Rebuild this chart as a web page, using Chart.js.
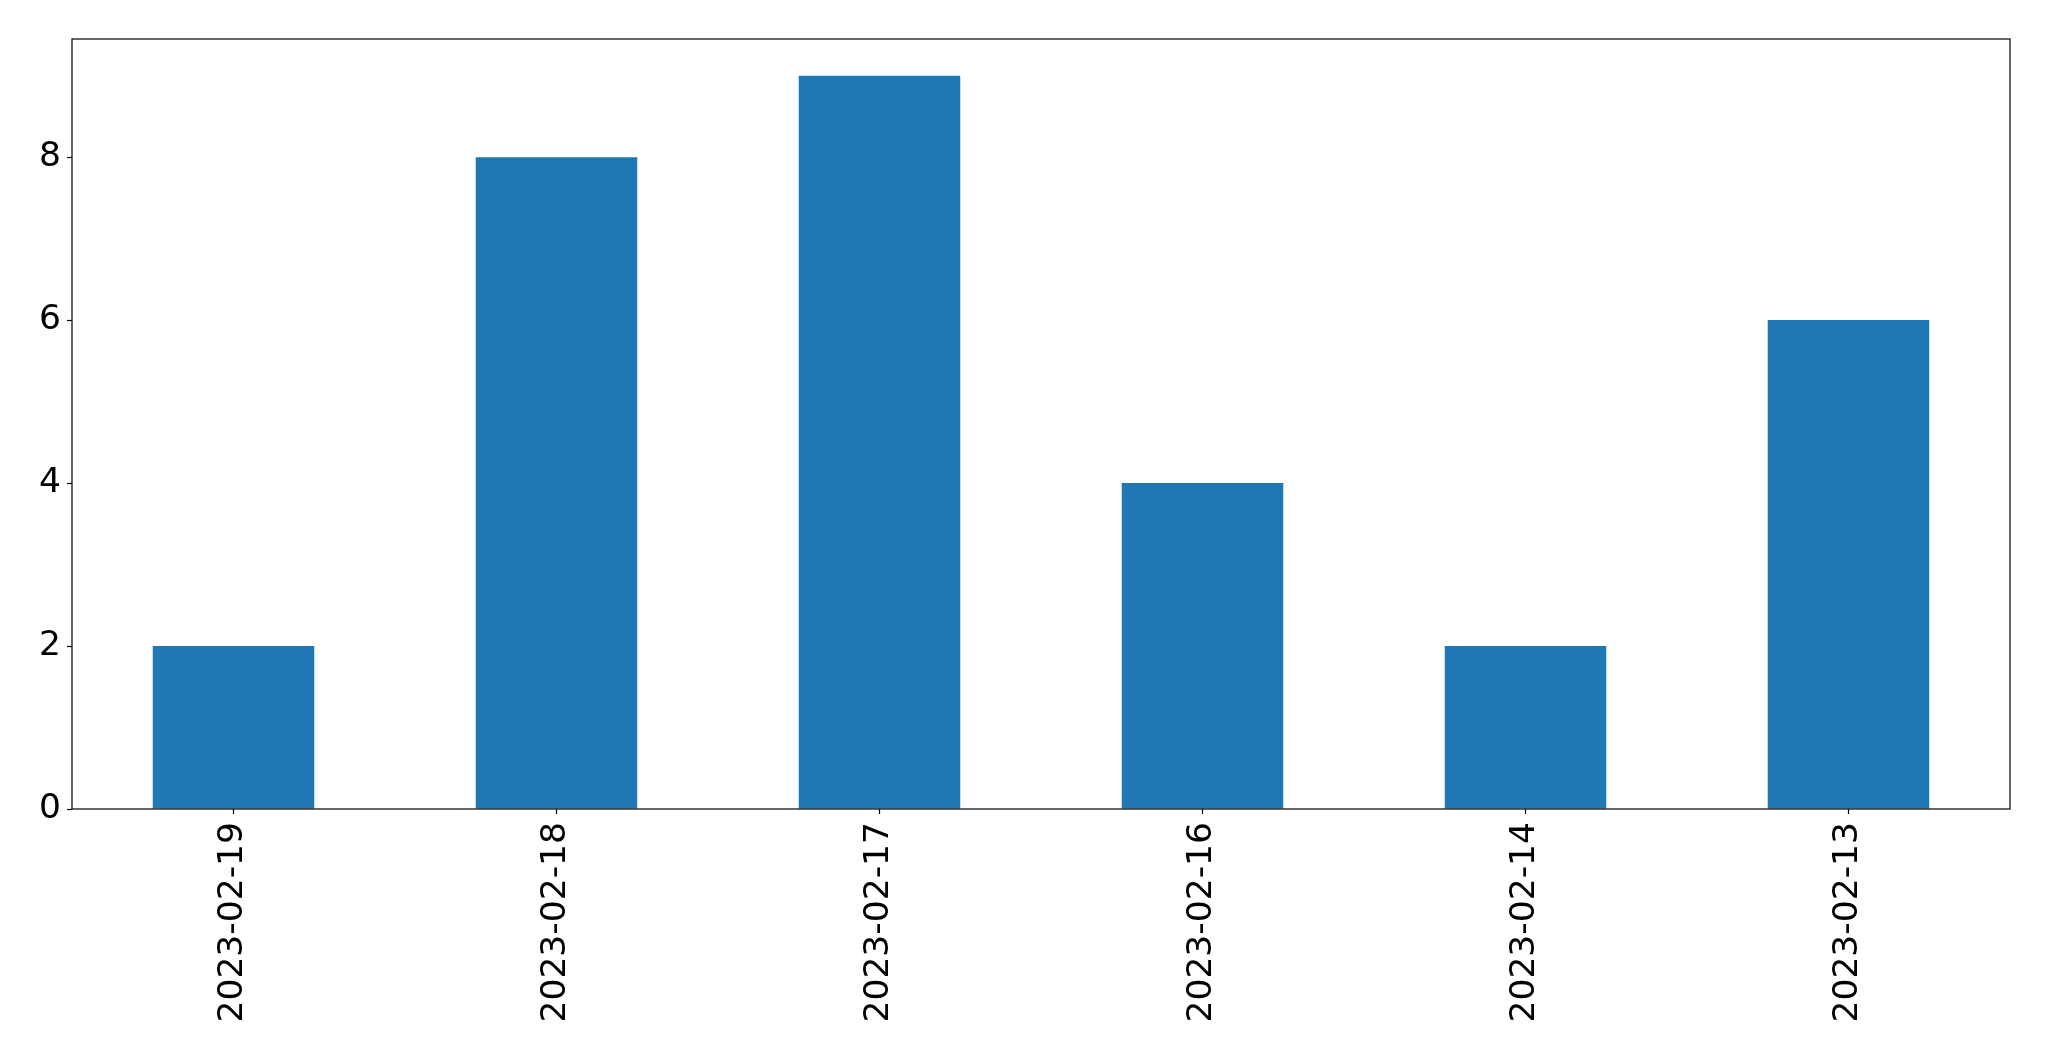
<!DOCTYPE html>
<html>
<head>
<meta charset="utf-8">
<script src="https://cdn.jsdelivr.net/npm/chart.js@4/dist/chart.umd.min.js"></script>
<style>
  html, body { margin: 0; padding: 0; background: #fff; }
  #wrap { width: 2049px; height: 1061px; }
</style>
</head>
<body>
<div id="wrap"><canvas id="chart" width="2049" height="1061"></canvas></div>
<script>
var dates = ["2023-02-19", "2023-02-18", "2023-02-17", "2023-02-16", "2023-02-14", "2023-02-13"];
var counts = [2, 8, 9, 4, 2, 6];
var yTicks = [0, 2, 4, 6, 8];

var font = { family: "DejaVu Sans", size: 34.5 };

// draws the box round the plot area, like matplotlib's spines
var frame = {
    id: "frame",
    afterDraw: function (chart) {
        var a = chart.chartArea;
        var c = chart.ctx;
        c.save();
        c.strokeStyle = "#000";
        c.lineWidth = 1.2;
        c.strokeRect(a.left, a.top, a.right - a.left, a.bottom - a.top);
        c.restore();
    },
};

var ctx = document.getElementById("chart").getContext("2d");

new Chart(ctx, {
    type: "bar",
    data: {
        labels: dates,
        datasets: [{
            data: counts,
            backgroundColor: "#1f77b4",
            borderWidth: 0,
            barPercentage: 0.5,
            categoryPercentage: 1.0,
        }],
    },
    options: {
        responsive: false,
        animation: false,
        layout: { padding: { top: 39, right: 39, left: 0, bottom: 0 } },
        plugins: {
            legend: { display: false },
            tooltip: { enabled: false },
        },
        scales: {
            x: {
                offset: true,
                grid: { offset: false, drawOnChartArea: false, tickLength: 5, color: "#000", tickWidth: 1.2 },
                border: { display: false },
                ticks: { color: "#000", font: font, minRotation: 90, maxRotation: 90, padding: 8 },
                afterFit: function (s) { s.height = 252; },
            },
            y: {
                min: 0,
                max: 9.45,
                grid: { drawOnChartArea: false, tickLength: 5, color: "#000", tickWidth: 1.2 },
                border: { display: false },
                ticks: { color: "#000", font: font, stepSize: 2, includeBounds: false, padding: 6 },
                afterBuildTicks: function (s) { s.ticks = yTicks.map(function (v) { return { value: v }; }); },
                afterFit: function (s) { s.width = 72; },
            },
        },
    },
    plugins: [frame],
});
</script>
</body>
</html>
